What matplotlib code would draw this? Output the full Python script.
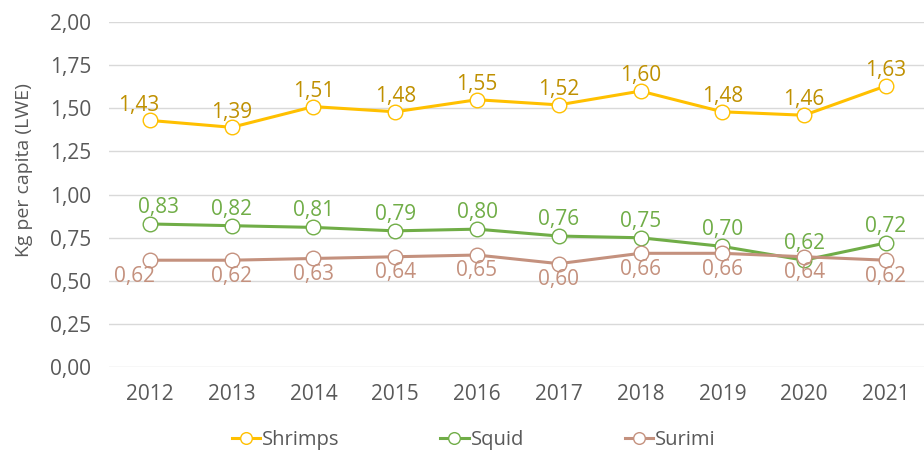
import matplotlib.pyplot as plt

years = ["2012", "2013", "2014", "2015", "2016", "2017", "2018", "2019", "2020", "2021"]
shrimps = [1.43, 1.39, 1.51, 1.48, 1.55, 1.52, 1.60, 1.48, 1.46, 1.63]
squid = [0.83, 0.82, 0.81, 0.79, 0.80, 0.76, 0.75, 0.70, 0.62, 0.72]
surimi = [0.62, 0.62, 0.63, 0.64, 0.65, 0.60, 0.66, 0.66, 0.64, 0.62]

plt.rcParams['font.family'] = ['Open Sans', 'DejaVu Sans']
grey = '#595959'

fig = plt.figure(figsize=(9.24, 4.5), dpi=100)
ax = fig.add_axes([0.118, 0.184, 0.885, 0.767])

x = range(len(years))
# name, values, line colour, label colour, vertical offset, nudge of first label
series = [
    ("Shrimps", shrimps, '#FFC000', '#BF9000', 11, -8),
    ("Squid", squid, '#70AD47', '#70AD47', 12, 6),
    ("Surimi", surimi, '#C4917E', '#C4917E', -11.5, -11),
]
for name, vals, col, lcol, off, nudge in series:
    ax.plot(x, vals, color=col, lw=2.2, marker='o', ms=10.5, mfc='white',
            mec=col, mew=1, label=name, zorder=3)
    for i, v in enumerate(vals):
        ax.annotate(f"{v:.2f}".replace('.', ','), (i, v),
                    xytext=(nudge if i == 0 else 0, off),
                    textcoords='offset points', ha='center', va='center',
                    fontsize=15, color=lcol, zorder=4)

ax.set_xlim(-0.5, 9.5)
ax.set_ylim(0, 2.0)
ax.set_yticks([i * 0.25 for i in range(9)])
ax.set_yticklabels([f"{i * 0.25:.2f}".replace('.', ',') for i in range(9)])
ax.set_xticks(list(x))
ax.set_xticklabels(years)
ax.tick_params(length=0, labelsize=15, colors=grey)
ax.tick_params(axis='x', pad=12)
ax.tick_params(axis='y', pad=13)
ax.grid(axis='y', color='#D9D9D9', lw=1)
ax.set_axisbelow(True)
for s in ax.spines.values():
    s.set_visible(False)
ax.set_ylabel("Kg per capita (LWE)", fontsize=14, color=grey)
ax.yaxis.set_label_coords(-0.093, 0.571)

leg = ax.legend(loc='center', bbox_to_anchor=(0.446, -0.212), ncol=3,
                frameon=False, fontsize=14.5, handlelength=1.4,
                handletextpad=0.1, columnspacing=5.0, markerscale=0.8)
for t in leg.get_texts():
    t.set_color(grey)

plt.savefig('out.png', dpi=100)
